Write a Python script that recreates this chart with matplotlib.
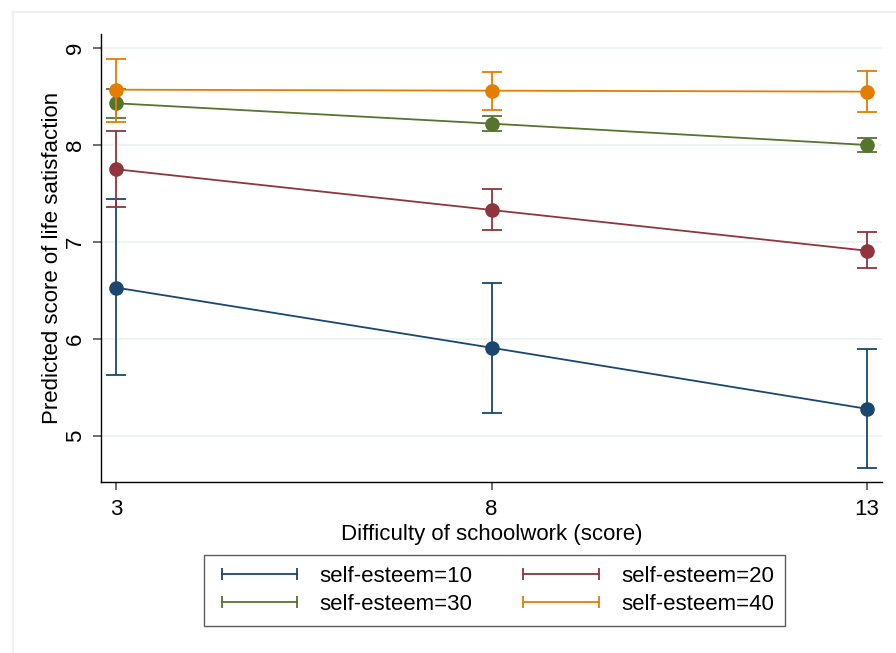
import matplotlib.pyplot as plt
from matplotlib.lines import Line2D

plt.rcParams['font.family'] = ['Liberation Sans', 'DejaVu Sans']

# difficulty of schoolwork (x) and predicted life satisfaction per self-esteem level
difficulty = [3, 8, 13]
groups = ['self-esteem=10', 'self-esteem=20', 'self-esteem=30', 'self-esteem=40']
pred = [
    [6.53, 5.91, 5.28],
    [7.75, 7.33, 6.91],
    [8.43, 8.22, 8.00],
    [8.57, 8.56, 8.55],
]
ci_low = [
    [5.63, 5.24, 4.67],
    [7.36, 7.12, 6.73],
    [8.28, 8.14, 7.93],
    [8.24, 8.36, 8.34],
]
ci_high = [
    [7.44, 6.58, 5.90],
    [8.14, 7.55, 7.10],
    [8.58, 8.30, 8.07],
    [8.89, 8.75, 8.76],
]
colors = ['#1a476f', '#90353b', '#55752f', '#e37e00']

fig = plt.figure(figsize=(8.96, 6.53), dpi=100)
W, H = 896, 653
ax = fig.add_axes([101 / W, (H - 482) / H, (882 - 101) / W, (482 - 34) / H])

for i in range(len(groups)):
    lo = [p - l for p, l in zip(pred[i], ci_low[i])]
    hi = [h - p for p, h in zip(pred[i], ci_high[i])]
    ax.errorbar(difficulty, pred[i], yerr=[lo, hi], color=colors[i], lw=1.3,
                marker='o', markersize=9.5, capsize=7, capthick=1.3,
                elinewidth=1.3, zorder=3 + i)

ax.set_xlim(2.8, 13.2)
ax.set_ylim(4.526, 9.144)
ax.set_xticks(difficulty)
ax.set_yticks([5, 6, 7, 8, 9])
ax.yaxis.grid(True, color='#eaf2f3', lw=1.2)
ax.set_axisbelow(True)
for s in ['top', 'right']:
    ax.spines[s].set_visible(False)
for s in ['left', 'bottom']:
    ax.spines[s].set_color('black')
    ax.spines[s].set_linewidth(1.0)
ax.tick_params(axis='both', length=6, width=1.2, color='#555555', labelsize=16)
ax.tick_params(axis='x', pad=6)
ax.tick_params(axis='y', pad=5)
for lab in ax.get_yticklabels():
    lab.set_rotation(90)
    lab.set_va('center')
ax.set_xlabel('Difficulty of schoolwork (score)', fontsize=16, labelpad=3)
ax.set_ylabel('Predicted score of life satisfaction', fontsize=16, labelpad=1)

# legend with error-bar style handles, filled row by row
handles = [Line2D([0], [0], color=c, lw=1.3, marker='|', markersize=9, markeredgewidth=1.3)
           for c in colors]
order = [0, 2, 1, 3]
leg = fig.legend([handles[k] for k in order], [groups[k] for k in order],
                 loc='upper center', ncol=2, numpoints=2,
                 bbox_to_anchor=((206 + 783) / 2 / W, 1 - 555 / H),
                 fontsize=16, frameon=True, fancybox=False, handlelength=4,
                 columnspacing=2.0, handletextpad=0.7, borderpad=0.5,
                 borderaxespad=0, labelspacing=0.32)
leg.get_frame().set_edgecolor('#333333')
leg.get_frame().set_linewidth(1.0)

# faint outer graph-region frame
fig.add_artist(Line2D([12 / W, 1], [1 - 12 / H, 1 - 12 / H], color='#edf1f1', lw=1.5))
fig.add_artist(Line2D([13 / W, 13 / W], [0, 1 - 12 / H], color='#edf1f1', lw=1.5))

fig.savefig('out.png', dpi=100)
